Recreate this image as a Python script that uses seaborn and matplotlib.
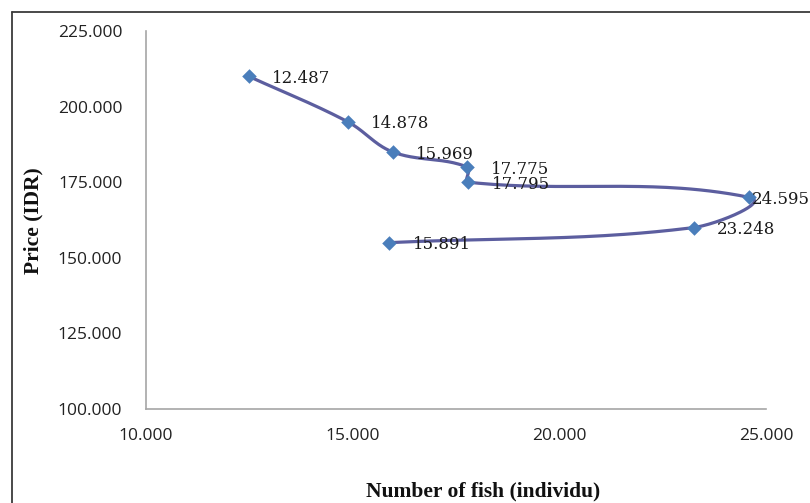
import numpy as np
import pandas as pd
import matplotlib
matplotlib.use("Agg")
import matplotlib.pyplot as plt
from matplotlib.lines import Line2D
import seaborn as sns

# Observations in sale order
fish_count = [12487, 14878, 15969, 17775, 17795, 24595, 23248, 15891]
price_idr = [210000, 195000, 185000, 180000, 175000, 170000, 160000, 155000]

x_ticks = [10000, 15000, 20000, 25000]
y_ticks = [100000, 125000, 150000, 175000, 200000, 225000]


def dot_thousands(v):
    return f"{int(round(v)):,}".replace(",", ".")


sns.set_style("white")
plt.rcParams["font.family"] = ["Open Sans", "DejaVu Sans"]

fig = plt.figure(figsize=(8.10, 5.03), dpi=100)
ax = fig.add_axes([146 / 810, 1 - 409 / 503, 620 / 810, 378 / 503])
ax.set_xlim(10000, 25000)
ax.set_ylim(100000, 225000)

df = pd.DataFrame({"fish": fish_count, "price": price_idr})

# Smoothed connecting curve: Bezier segments in screen space whose handles
# follow the neighbour direction and scale with each segment's own length
pts = ax.transData.transform(np.column_stack([df["fish"], df["price"]]))
n = len(pts)


def tangent(i):
    a = pts[max(i - 1, 0)]
    b = pts[min(i + 1, n - 1)]
    d = b - a
    return d / np.hypot(*d)


curve = []
for i in range(n - 1):
    p1, p2 = pts[i], pts[i + 1]
    seg_len = np.hypot(*(p2 - p1))
    c1 = p1 + tangent(i) * seg_len * 0.36
    c2 = p2 - tangent(i + 1) * seg_len * 0.36
    t = np.linspace(0, 1, 60)[:, None]
    seg = ((1 - t) ** 3) * p1 + 3 * ((1 - t) ** 2) * t * c1 + 3 * (1 - t) * t ** 2 * c2 + t ** 3 * p2
    curve.append(seg if i == 0 else seg[1:])
curve = ax.transData.inverted().transform(np.vstack(curve))
curve_df = pd.DataFrame({"fish": curve[:, 0], "price": curve[:, 1]})

sns.lineplot(data=curve_df, x="fish", y="price", sort=False, estimator=None,
             color="#5c5e9f", linewidth=2.3, ax=ax, zorder=2)
sns.scatterplot(data=df, x="fish", y="price", marker="D", s=55,
                color="#4a7ebb", edgecolor="#4a7ebb", linewidth=0, ax=ax, zorder=3)

# Value labels next to each marker
label_shift = {24595: 1.5}
for fx, py in zip(fish_count, price_idr):
    dx = label_shift.get(fx, 17)
    ax.annotate(dot_thousands(fx), (fx, py), xytext=(dx, -1.5),
                textcoords="offset points", ha="left", va="center",
                fontsize=12, family="DejaVu Serif", color="#1a1a1a",
                annotation_clip=False, zorder=4)

ax.set_xticks(x_ticks)
ax.set_yticks(y_ticks)
ax.set_xticklabels([dot_thousands(v) for v in x_ticks])
ax.set_yticklabels([dot_thousands(v) for v in y_ticks])
ax.tick_params(axis="both", which="major", direction="out", length=5, width=1,
               color="#a6a6a6", labelsize=12.5, labelcolor="#222222")
ax.tick_params(axis="y", pad=12)
ax.tick_params(axis="x", pad=9)

for side in ("top", "right"):
    ax.spines[side].set_visible(False)
for side in ("left", "bottom"):
    ax.spines[side].set_color("#a6a6a6")
    ax.spines[side].set_linewidth(1.2)

ax.set_xlabel("Number of fish (individu)", family="Liberation Serif",
              fontweight="bold", fontsize=15.5, color="#111111")
ax.set_ylabel("Price (IDR)", family="Liberation Serif",
              fontweight="bold", fontsize=15.5, color="#111111")
ax.xaxis.set_label_coords((483 - 146) / 620, (409 - 491) / 378)
ax.xaxis.label.set_va("center")
ax.yaxis.set_label_coords((33 - 146) / 620, (409 - 221) / 378)
ax.yaxis.label.set_va("center")

# Chart-area frame along the left and top edges
fig.add_artist(Line2D([12 / 810, 12 / 810], [0, 1 - 12 / 503],
                      transform=fig.transFigure, color="#3a3a3a", linewidth=1.3))
fig.add_artist(Line2D([12 / 810, 1], [1 - 12 / 503, 1 - 12 / 503],
                      transform=fig.transFigure, color="#3a3a3a", linewidth=1.3))

fig.savefig("out.png", dpi=100)
